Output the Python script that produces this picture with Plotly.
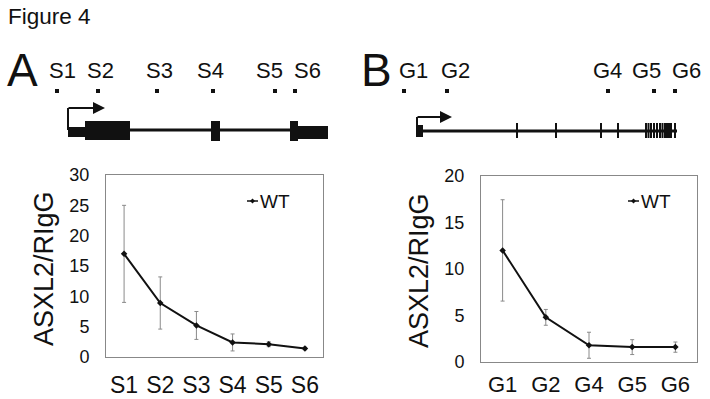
import plotly.graph_objects as go

# ---------------- data ----------------
a_sites = ["S1", "S2", "S3", "S4", "S5", "S6"]
a_values = [17.0, 8.9, 5.2, 2.4, 2.1, 1.4]
a_errors = [8.0, 4.3, 2.3, 1.4, 0.4, 0.2]
a_yticks = [0, 5, 10, 15, 20, 25, 30]

b_sites = ["G1", "G2", "G4", "G5", "G6"]
b_values = [12.0, 4.8, 1.8, 1.6, 1.6]
b_errors = [5.45, 0.85, 1.4, 0.8, 0.55]
b_yticks = [0, 5, 10, 15, 20]

series_name = "WT"
y_title = "ASXL2/RIgG"

# schematic (pixel-space illustration of gene loci)
a_site_dot_x = [57, 98, 157, 213, 275, 295]
a_site_label_x = [62, 100, 159, 210, 269, 307]
a_gene_span = (68, 328)
a_exons = [(68, 85, 127, 137), (85, 130, 121, 140), (211, 220, 121, 141),
           (290, 298, 121, 141), (298, 328, 126, 139)]
a_tss = (68, 130, 108, 105)   # x, base y, top y, arrow tip x

b_site_dot_x = [404, 447, 608, 654, 675]
b_site_label_x = [413, 455, 607, 646, 686]
b_gene_span = (416, 677)
b_first_exon = (416, 423, 125, 137)
b_exon_ticks = [517, 556, 601, 618, 646, 648.5, 651, 654, 657, 660, 662.5,
                665, 667, 669, 671, 675]
b_tss = (417, 131, 117, 452)

FONT = "Liberation Sans, Arial, sans-serif"
INK = "#111111"
GRID = "#888888"

fig = go.Figure()

common_trace = dict(
    mode="lines+markers",
    line=dict(color=INK, width=2),
    marker=dict(symbol="diamond", size=5, color=INK),
    showlegend=False,
    name=series_name,
)
fig.add_trace(go.Scatter(
    x=a_sites, y=a_values, xaxis="x", yaxis="y",
    error_y=dict(type="data", array=a_errors, visible=True,
                 color="#8a8a8a", thickness=1, width=2),
    **common_trace))
fig.add_trace(go.Scatter(
    x=b_sites, y=b_values, xaxis="x2", yaxis="y2",
    error_y=dict(type="data", array=b_errors, visible=True,
                 color="#8a8a8a", thickness=1, width=2),
    **common_trace))

W, H = 710, 399

def px_x(v):
    return v / W

def px_y(v):
    return 1 - v / H

axis_common = dict(
    showgrid=False, zeroline=False, showline=True, mirror=True,
    linecolor=GRID, linewidth=1, ticks="", fixedrange=True, automargin=False,
)

fig.update_layout(
    template="none",
    width=W, height=H,
    margin=dict(l=0, r=0, t=0, b=0, pad=0, autoexpand=False),
    paper_bgcolor="white",
    plot_bgcolor="rgba(0,0,0,0)",
    showlegend=False,
    font=dict(family=FONT, color=INK),
    xaxis=dict(domain=[px_x(106), px_x(323)], anchor="y",
               type="category", categoryorder="array", categoryarray=a_sites,
               range=[-0.5, len(a_sites) - 0.5],
               tickfont=dict(size=23, color=INK), ticklabelstandoff=7,
               **axis_common),
    yaxis=dict(domain=[px_y(357), px_y(175)], anchor="x",
               range=[0, 30], tickvals=a_yticks,
               tickfont=dict(size=18, color=INK), ticklabelstandoff=12,
               **axis_common),
    xaxis2=dict(domain=[px_x(481), px_x(697)], anchor="y2",
                type="category", categoryorder="array", categoryarray=b_sites,
                range=[-0.5, len(b_sites) - 0.5],
                tickfont=dict(size=22, color=INK), ticklabelstandoff=3,
                **axis_common),
    yaxis2=dict(domain=[px_y(362), px_y(176)], anchor="x2",
                range=[0, 20], tickvals=b_yticks,
                tickfont=dict(size=18, color=INK), ticklabelstandoff=12,
                **axis_common),
    xaxis3=dict(domain=[0, 1], anchor="y3", range=[0, W], visible=False,
                fixedrange=True, automargin=False),
    yaxis3=dict(domain=[0, 1], anchor="x3", range=[H, 0], visible=False,
                fixedrange=True, automargin=False),
)

shapes = []
annotations = []

# titles
annotations.append(dict(xref="x3", yref="y3", x=6, y=16, text="Figure 4",
                        showarrow=False, xanchor="left", yanchor="middle",
                        font=dict(size=22.5, color=INK)))
annotations.append(dict(xref="x3", yref="y3", x=5, y=70, text="A",
                        showarrow=False, xanchor="left", yanchor="middle",
                        font=dict(size=46, color=INK)))
annotations.append(dict(xref="x3", yref="y3", x=359, y=70, text="B",
                        showarrow=False, xanchor="left", yanchor="middle",
                        font=dict(size=46, color=INK)))

# axis titles (rotated)
annotations.append(dict(xref="x3", yref="y3", x=44, y=269, text=y_title,
                        showarrow=False, textangle=-90,
                        font=dict(size=27, color=INK)))
annotations.append(dict(xref="x3", yref="y3", x=419, y=271, text=y_title,
                        showarrow=False, textangle=-90,
                        font=dict(size=27, color=INK)))

# site labels and dots
for lab, lx, dx in zip(a_sites, a_site_label_x, a_site_dot_x):
    annotations.append(dict(xref="x3", yref="y3", x=lx, y=70, text=lab,
                            showarrow=False, font=dict(size=22, color=INK)))
    shapes.append(dict(type="rect", xref="x3", yref="y3", x0=dx - 2, x1=dx + 2,
                       y0=89, y1=93, fillcolor=INK, line=dict(width=0)))
for lab, lx, dx in zip(b_sites, b_site_label_x, b_site_dot_x):
    annotations.append(dict(xref="x3", yref="y3", x=lx, y=70, text=lab,
                            showarrow=False, font=dict(size=22, color=INK)))
    shapes.append(dict(type="rect", xref="x3", yref="y3", x0=dx - 2, x1=dx + 2,
                       y0=89, y1=93, fillcolor=INK, line=dict(width=0)))

# gene A
shapes.append(dict(type="line", xref="x3", yref="y3", x0=a_gene_span[0],
                   x1=a_gene_span[1], y0=130, y1=130,
                   line=dict(color=INK, width=3)))
for x0, x1, y0, y1 in a_exons:
    shapes.append(dict(type="rect", xref="x3", yref="y3", x0=x0, x1=x1,
                       y0=y0, y1=y1, fillcolor=INK, line=dict(width=0)))
tx, tby, tty, tip = a_tss
shapes.append(dict(type="line", xref="x3", yref="y3", x0=tx, x1=tx,
                   y0=tby, y1=tty, line=dict(color=INK, width=2)))
annotations.append(dict(xref="x3", yref="y3", axref="x3", ayref="y3",
                        x=tip, y=tty, ax=tx - 1, ay=tty, text="",
                        showarrow=True, arrowhead=2, arrowsize=1.2,
                        arrowwidth=2, arrowcolor=INK))

# gene B
shapes.append(dict(type="line", xref="x3", yref="y3", x0=b_gene_span[0],
                   x1=b_gene_span[1], y0=131, y1=131,
                   line=dict(color=INK, width=3)))
x0, x1, y0, y1 = b_first_exon
shapes.append(dict(type="rect", xref="x3", yref="y3", x0=x0, x1=x1,
                   y0=y0, y1=y1, fillcolor=INK, line=dict(width=0)))
for ex in b_exon_ticks:
    shapes.append(dict(type="line", xref="x3", yref="y3", x0=ex, x1=ex,
                       y0=123, y1=138, line=dict(color=INK, width=2)))
tx, tby, tty, tip = b_tss
shapes.append(dict(type="line", xref="x3", yref="y3", x0=tx, x1=tx,
                   y0=tby, y1=tty, line=dict(color=INK, width=2)))
annotations.append(dict(xref="x3", yref="y3", axref="x3", ayref="y3",
                        x=tip, y=tty, ax=tx - 1, ay=tty, text="",
                        showarrow=True, arrowhead=2, arrowsize=1.2,
                        arrowwidth=2, arrowcolor=INK))

# manual legends
for (lx0, lx1, ly) in [(247, 258, 201), (628, 639, 201)]:
    shapes.append(dict(type="line", xref="x3", yref="y3", x0=lx0, x1=lx1,
                       y0=ly, y1=ly, line=dict(color=INK, width=1.5)))
    mx = (lx0 + lx1) / 2
    shapes.append(dict(type="path", xref="x3", yref="y3",
                       path=f"M {mx-2.5},{ly} L {mx},{ly-2.5} L {mx+2.5},{ly} L {mx},{ly+2.5} Z",
                       fillcolor=INK, line=dict(width=0)))
    annotations.append(dict(xref="x3", yref="y3", x=lx1, y=ly, text=series_name,
                            showarrow=False, xanchor="left", yanchor="middle",
                            font=dict(size=19, color=INK)))

fig.update_layout(shapes=shapes, annotations=annotations)

fig.write_html(
    "out.html",
    config={"displayModeBar": False, "staticPlot": True},
    post_script="document.body.style.margin='0';document.body.style.overflow='hidden';",
)
